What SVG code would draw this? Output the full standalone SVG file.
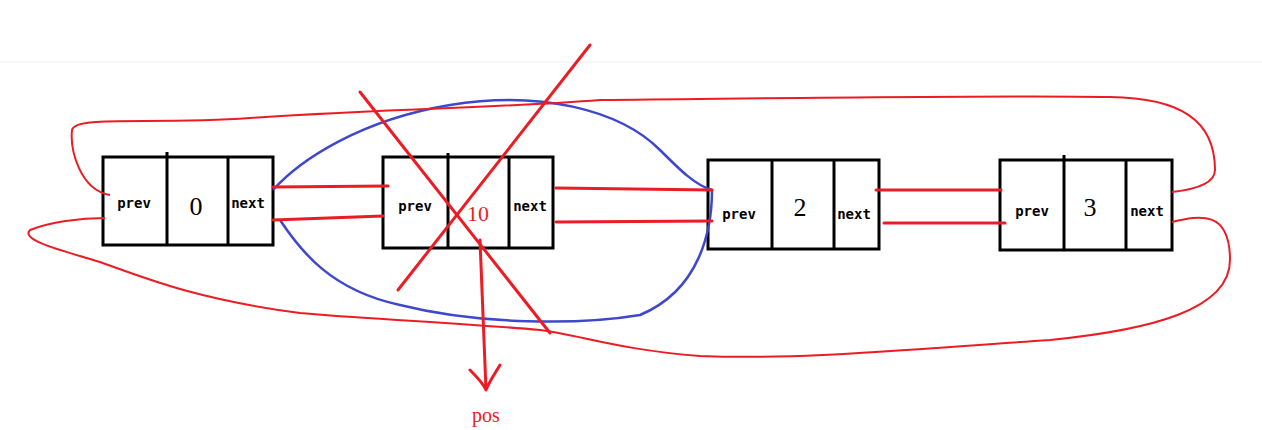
<svg xmlns="http://www.w3.org/2000/svg" width="1262" height="430" viewBox="0 0 1262 430">
<style>
.box{fill:#fff;stroke:#000;stroke-width:3}
.d{stroke:#000;stroke-width:3}
.r{fill:none;stroke:#ec1c24;stroke-width:3;stroke-linecap:round;stroke-linejoin:round}
.r2{fill:none;stroke:#ec1c24;stroke-width:2}
.b{fill:none;stroke:#3f48cc;stroke-width:2.5}
.s{font-family:"DejaVu Sans Mono","Liberation Mono",monospace;font-size:14px;font-weight:bold;text-anchor:middle}
.n{font-family:"Liberation Serif",serif;font-size:26px;text-anchor:middle}
</style>
<rect width="1262" height="430" fill="#fff"/>
<line x1="0" y1="62" x2="1262" y2="62" stroke="#eee" stroke-width="1"/>
<g id="node0"><rect class="box" x="103" y="157" width="170" height="88"/><line class="d" x1="167" y1="152" x2="167" y2="245"/><line class="d" x1="228" y1="157" x2="228" y2="245"/>
<text class="s" x="134" y="208">prev</text><text class="n" x="196" y="215">0</text><text class="s" x="248" y="208">next</text></g>
<g id="node1"><rect class="box" x="383" y="157" width="170" height="91"/><line class="d" x1="448" y1="153" x2="448" y2="248"/><line class="d" x1="509" y1="157" x2="509" y2="248"/>
<text class="s" x="415" y="211">prev</text><text class="s" x="530" y="211">next</text></g>
<g id="node2"><rect class="box" x="708" y="160" width="171" height="89"/><line class="d" x1="772" y1="160" x2="772" y2="249"/><line class="d" x1="834" y1="160" x2="834" y2="249"/>
<text class="s" x="739" y="219">prev</text><text class="n" x="800" y="216">2</text><text class="s" x="854" y="219">next</text></g>
<g id="node3"><rect class="box" x="1000" y="160" width="172" height="90"/><line class="d" x1="1064" y1="155" x2="1064" y2="250"/><line class="d" x1="1126" y1="160" x2="1126" y2="250"/>
<text class="s" x="1032" y="216">prev</text><text class="n" x="1090" y="216">3</text><text class="s" x="1147" y="216">next</text></g>
<g id="connectors">
<path class="b" d="M273,190 C300,160 360,120 450,105 C540,90 620,110 660,150 C680,170 695,185 712,190 C712,230 700,290 640,315 C580,325 480,325 400,305 C330,290 300,250 280,220"/>
<line class="r" x1="273" y1="187" x2="388" y2="186"/><line class="r" x1="273" y1="220" x2="383" y2="216"/>
<line class="r" x1="556" y1="188" x2="712" y2="190"/><line class="r" x1="556" y1="222" x2="712" y2="221"/>
<line class="r" x1="876" y1="190" x2="1001" y2="190"/><line class="r" x1="884" y1="223" x2="1005" y2="223"/>
<path class="r2" d="M110,195 C80,190 70,150 72,130 C75,115 150,125 250,118 C400,108 500,108 600,100 C800,98 1000,95 1110,97 C1180,98 1215,120 1215,170 C1215,185 1190,190 1172,192"/>
<path class="r2" d="M1172,222 C1200,215 1230,210 1230,260 C1230,310 1150,330 1050,340 C900,350 800,360 700,356 C620,350 580,335 540,330 C450,322 350,318 300,313 C200,300 150,280 100,262 C60,250 20,240 30,230 C50,222 80,218 105,218"/>
<line class="r" x1="360" y1="92" x2="550" y2="333"/><line class="r" x1="590" y1="45" x2="398" y2="290"/>
<path class="r" d="M480,240 C482,290 484,340 486,390 M470,370 C478,378 484,385 486,390 C490,380 496,372 500,365"/>
</g>
<text x="478" y="221" font-family="Liberation Serif,serif" font-size="22" fill="#ec1c24" text-anchor="middle">10</text>
<text x="486" y="422" font-family="Liberation Serif,serif" font-size="20" fill="#ec1c24" text-anchor="middle">pos</text>
</svg>
